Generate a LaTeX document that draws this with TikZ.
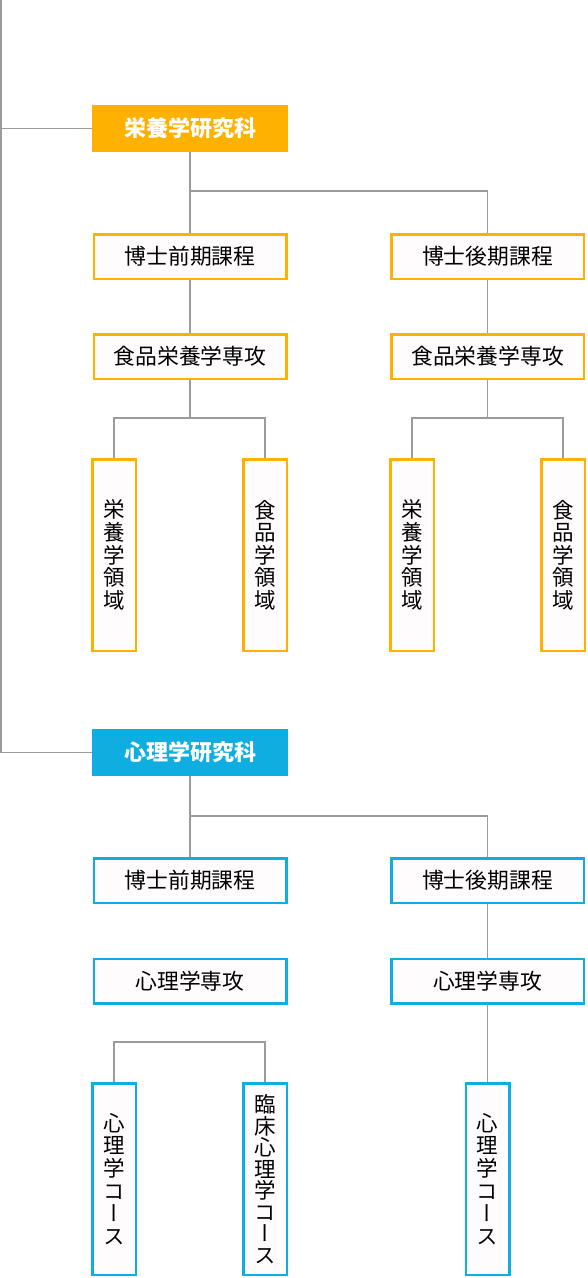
\documentclass[tikz,border=0pt]{standalone}
\usepackage{fontspec}
\newfontfamily\jp{Noto Sans CJK JP}
\newfontfamily\jpv[RawFeature={+vert}]{Noto Sans CJK JP}
\definecolor{orangec}{RGB}{255,177,0}
\definecolor{bluec}{RGB}{16,174,224}
\definecolor{linec}{RGB}{155,155,155}
\definecolor{boxfill}{RGB}{255,252,253}
\begin{document}
\begin{tikzpicture}[x=1pt,y=-1pt,
  conn/.style={draw=linec,line width=1.3pt},
  title/.style={rectangle,inner sep=0pt,minimum width=196pt,minimum height=47pt,text=white,font=\jp\bfseries\fontsize{22}{24}\selectfont},
  hbox/.style={rectangle,draw,line width=2.5pt,fill=boxfill,inner sep=0pt,minimum width=192.5pt,minimum height=44.5pt,font=\jp\fontsize{21.8}{24}\selectfont},
  vbox/.style={rectangle,draw,line width=2.5pt,fill=boxfill,inner sep=0pt,minimum width=43.5pt,minimum height=191.5pt,align=center,font=\jpv\fontsize{21.5}{22.6}\selectfont},
  oc/.style={draw=orangec},
  bc/.style={draw=bluec}]
\useasboundingbox (0,0) rectangle (588,1278);
% nodes - nutrition
\node[title,fill=orangec] (t1) at (190,128.5) {栄養学研究科};
\node[hbox,oc] (a1) at (190,256.5) {博士前期課程};
\node[hbox,oc] (a2) at (487.5,256.5) {博士後期課程};
\node[hbox,oc] (b1) at (190,356.5) {食品栄養学専攻};
\node[hbox,oc] (b2) at (487.5,356.5) {食品栄養学専攻};
\node[vbox,oc] (c1) at (114,555) {栄\\養\\学\\領\\域};
\node[vbox,oc] (c2) at (265,555) {食\\品\\学\\領\\域};
\node[vbox,oc] (c3) at (412,555) {栄\\養\\学\\領\\域};
\node[vbox,oc] (c4) at (563,555) {食\\品\\学\\領\\域};
% nodes - psychology
\node[title,fill=bluec] (t2) at (190,752.5) {心理学研究科};
\node[hbox,bc] (d1) at (190,880.5) {博士前期課程};
\node[hbox,bc] (d2) at (487.5,880.5) {博士後期課程};
\node[hbox,bc] (e1) at (190,981) {心理学専攻};
\node[hbox,bc] (e2) at (487.5,981) {心理学専攻};
\node[vbox,bc] (f1) at (114,1179) {心\\理\\学\\コ\\ー\\ス};
\node[vbox,bc,font=\jpv\fontsize{21.5}{21.5}\selectfont] (f2) at (265,1179) {臨\\床\\心\\理\\学\\コ\\ー\\ス};
\node[vbox,bc] (f3) at (487.5,1179) {心\\理\\学\\コ\\ー\\ス};
% junctions
\coordinate (top) at (1,0);
\coordinate (j1) at (190,191);
\coordinate (j2) at (190,418);
\coordinate (j3) at (487.5,418);
\coordinate (j4) at (190,816);
\coordinate (j5) at (190,1042);
% connectors
\draw[conn] (top) |- (t2.west);
\draw[conn] (t1.west) -- (t1.west -| top);
\draw[conn] (t1.south) -- (a1.north);
\draw[conn] (j1) -| (a2.north);
\draw[conn] (a1.south) -- (b1.north);
\draw[conn] (a2.south) -- (b2.north);
\draw[conn] (b1.south) -- (j2);
\draw[conn] (j2) -| (c1.north);
\draw[conn] (j2) -| (c2.north);
\draw[conn] (b2.south) -- (j3);
\draw[conn] (j3) -| (c3.north);
\draw[conn] (j3) -| (c4.north);
\draw[conn] (t2.south) -- (d1.north);
\draw[conn] (j4) -| (d2.north);
\draw[conn] (d2.south) -- (e2.north);
\draw[conn] (e2.south) -- (f3.north);
\draw[conn] (f1.north) |- (j5) -| (f2.north);
\end{tikzpicture}
\end{document}
